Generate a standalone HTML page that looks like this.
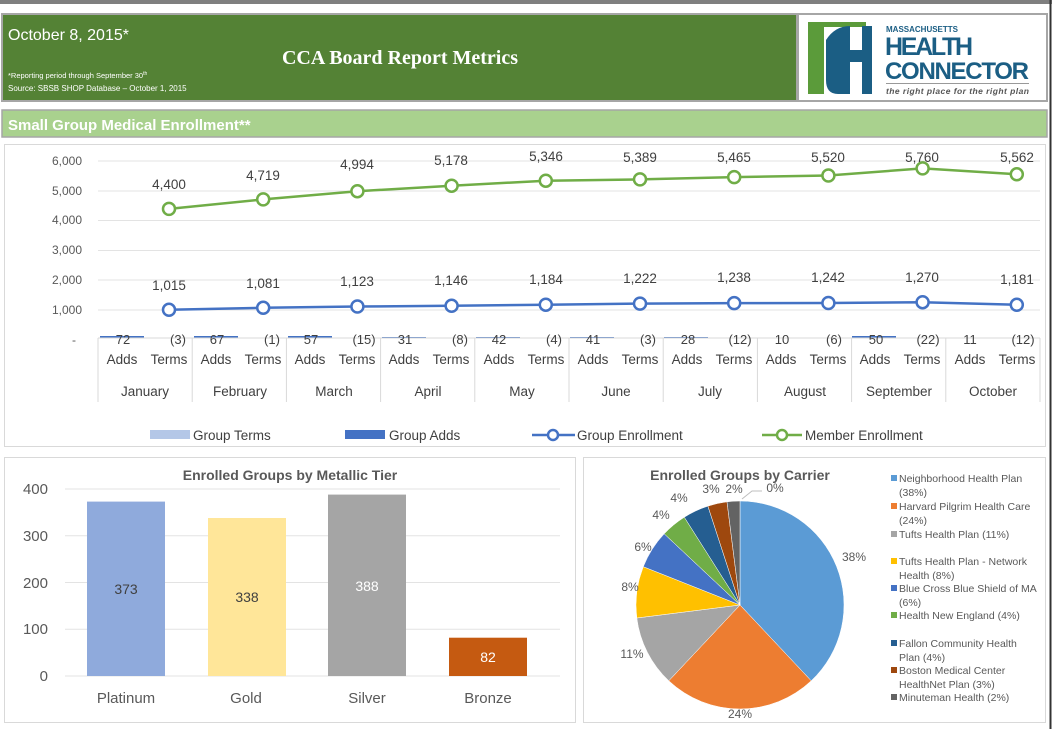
<!DOCTYPE html>
<html><head><meta charset="utf-8"><style>
body{margin:0;background:#fff;width:1057px;height:729px;overflow:hidden}
svg{display:block;font-family:"Liberation Sans",sans-serif}
</style></head><body>
<svg width="1057" height="729" viewBox="0 0 1057 729">
<rect x="0" y="0" width="1057" height="729" fill="#fff"/>
<rect x="0" y="0" width="1052" height="4" fill="#7f7f7f"/>
<rect x="1049.5" y="0" width="2" height="729" fill="#333"/>
<!-- header -->
<rect x="2" y="14" width="795" height="87" fill="#548235" stroke="#a6a6a6" stroke-width="2"/>
<text x="8" y="40" fill="#fff" font-size="16">October 8, 2015*</text>
<text x="400" y="64" fill="#fff" font-size="20" font-weight="bold" text-anchor="middle" font-family="Liberation Serif,serif">CCA Board Report Metrics</text>
<text x="8" y="78" fill="#fff" font-size="7.5">*Reporting period through September 30<tspan font-size="5" dy="-3">th</tspan></text>
<text x="8" y="91" fill="#fff" font-size="8">Source: SBSB SHOP Database – October 1, 2015</text>
<rect x="798" y="14" width="249" height="87" fill="#fff" stroke="#a6a6a6" stroke-width="2"/>
<rect x="808" y="22" width="16" height="72" fill="#5b9b3a"/>
<rect x="808" y="22" width="58" height="5" fill="#5b9b3a"/>
<path d="M826 40 Q835 26 850 26 L850 50 L862 50 L862 26 L872 26 L872 94 L862 94 L862 62 L850 62 L850 94 L838 94 Q826 94 826 80 Z" fill="#1b5e84"/>
<text x="886" y="32" fill="#1b5e84" font-size="8" font-weight="bold">MASSACHUSETTS</text>
<text x="885" y="55" fill="#1b5e84" font-size="25" font-weight="bold" textLength="88">HEALTH</text>
<text x="885" y="79" fill="#1b5e84" font-size="24" font-weight="bold" textLength="144">CONNECTOR</text>
<rect x="886" y="83" width="143" height="1" fill="#999"/>
<text x="886" y="94" fill="#555" font-size="8.5" font-style="italic" font-weight="bold" textLength="143">the right place for the right plan</text>
<!-- section bar -->
<rect x="2" y="110" width="1045" height="27" fill="#a9d18e" stroke="#a6a6a6" stroke-width="1.5"/>
<text x="8" y="130" fill="#fff" font-size="15" font-weight="bold">Small Group Medical Enrollment**</text>
<!-- line chart panel -->
<rect x="4.5" y="144.5" width="1041" height="302" fill="#fff" stroke="#d9d9d9"/>
<g stroke="#e3e3e3"><line x1="98" y1="161" x2="1040" y2="161"/><line x1="98" y1="191" x2="1040" y2="191"/><line x1="98" y1="220.5" x2="1040" y2="220.5"/><line x1="98" y1="250.5" x2="1040" y2="250.5"/><line x1="98" y1="280" x2="1040" y2="280"/><line x1="98" y1="310" x2="1040" y2="310"/></g>
<g font-size="12" fill="#595959" text-anchor="end">
<text x="82" y="165">6,000</text><text x="82" y="195">5,000</text><text x="82" y="224">4,000</text>
<text x="82" y="254">3,000</text><text x="82" y="284">2,000</text><text x="82" y="314">1,000</text><text x="76" y="344">-</text>
</g>
<g fill="#4472c4">
<rect x="100" y="336" width="44" height="2"/><rect x="194" y="336" width="44" height="2"/><rect x="288" y="336" width="44" height="2"/>
<rect x="382" y="337" width="44" height="1"/><rect x="476" y="337" width="44" height="1"/><rect x="570" y="337" width="44" height="1"/>
<rect x="664" y="337" width="44" height="1"/><rect x="758" y="337.5" width="44" height="0.5"/><rect x="852" y="336" width="44" height="2"/><rect x="946" y="337.5" width="44" height="0.5"/>
</g>
<g stroke="#d9d9d9" stroke-width="1">
<line x1="98" y1="338" x2="98" y2="402"/><line x1="192.2" y1="338" x2="192.2" y2="402"/><line x1="286.4" y1="338" x2="286.4" y2="402"/>
<line x1="380.6" y1="338" x2="380.6" y2="402"/><line x1="474.8" y1="338" x2="474.8" y2="402"/><line x1="569" y1="338" x2="569" y2="402"/>
<line x1="663.2" y1="338" x2="663.2" y2="402"/><line x1="757.4" y1="338" x2="757.4" y2="402"/><line x1="851.6" y1="338" x2="851.6" y2="402"/>
<line x1="945.8" y1="338" x2="945.8" y2="402"/><line x1="1040" y1="338" x2="1040" y2="402"/>
<line x1="98" y1="338" x2="1040" y2="338"/>
</g>
<g font-size="13" fill="#404040" text-anchor="middle">
<text x="123" y="344">72</text><text x="178" y="344">(3)</text>
<text x="217" y="344">67</text><text x="272" y="344">(1)</text>
<text x="311" y="344">57</text><text x="364" y="344">(15)</text>
<text x="405" y="344">31</text><text x="460" y="344">(8)</text>
<text x="499" y="344">42</text><text x="554" y="344">(4)</text>
<text x="593" y="344">41</text><text x="648" y="344">(3)</text>
<text x="688" y="344">28</text><text x="740" y="344">(12)</text>
<text x="782" y="344">10</text><text x="834" y="344">(6)</text>
<text x="876" y="344">50</text><text x="928" y="344">(22)</text>
<text x="970" y="344">11</text><text x="1023" y="344">(12)</text>
</g>
<g font-size="13.5" fill="#404040" text-anchor="middle">
<text x="122" y="364">Adds</text><text x="169" y="364">Terms</text><text x="216" y="364">Adds</text><text x="263" y="364">Terms</text>
<text x="310" y="364">Adds</text><text x="357" y="364">Terms</text><text x="404" y="364">Adds</text><text x="451" y="364">Terms</text>
<text x="499" y="364">Adds</text><text x="546" y="364">Terms</text><text x="593" y="364">Adds</text><text x="640" y="364">Terms</text>
<text x="687" y="364">Adds</text><text x="734" y="364">Terms</text><text x="781" y="364">Adds</text><text x="828" y="364">Terms</text>
<text x="875" y="364">Adds</text><text x="922" y="364">Terms</text><text x="970" y="364">Adds</text><text x="1017" y="364">Terms</text>
<text x="145" y="396">January</text><text x="240" y="396">February</text><text x="334" y="396">March</text><text x="428" y="396">April</text>
<text x="522" y="396">May</text><text x="616" y="396">June</text><text x="710" y="396">July</text><text x="805" y="396">August</text>
<text x="899" y="396">September</text><text x="993" y="396">October</text>
</g>
<polyline fill="none" stroke="#70ad47" stroke-width="2.5" points="169,208.9 263.2,199.4 357.4,191.2 451.6,185.7 545.8,180.7 640,179.4 734.2,177.1 828.4,175.5 922.6,168.4 1016.8,174.3"/>
<g fill="#fff" stroke="#70ad47" stroke-width="2.5">
<circle cx="169" cy="208.9" r="6"/><circle cx="263.2" cy="199.4" r="6"/><circle cx="357.4" cy="191.2" r="6"/><circle cx="451.6" cy="185.7" r="6"/><circle cx="545.8" cy="180.7" r="6"/>
<circle cx="640" cy="179.4" r="6"/><circle cx="734.2" cy="177.1" r="6"/><circle cx="828.4" cy="175.5" r="6"/><circle cx="922.6" cy="168.4" r="6"/><circle cx="1016.8" cy="174.3" r="6"/>
</g>
<polyline fill="none" stroke="#4472c4" stroke-width="2.5" points="169,309.8 263.2,307.8 357.4,306.5 451.6,305.8 545.8,304.7 640,303.6 734.2,303.1 828.4,303 922.6,302.2 1016.8,304.8"/>
<g fill="#fff" stroke="#4472c4" stroke-width="2.5">
<circle cx="169" cy="309.8" r="6"/><circle cx="263.2" cy="307.8" r="6"/><circle cx="357.4" cy="306.5" r="6"/><circle cx="451.6" cy="305.8" r="6"/><circle cx="545.8" cy="304.7" r="6"/>
<circle cx="640" cy="303.6" r="6"/><circle cx="734.2" cy="303.1" r="6"/><circle cx="828.4" cy="303" r="6"/><circle cx="922.6" cy="302.2" r="6"/><circle cx="1016.8" cy="304.8" r="6"/>
</g>
<g font-size="13.5" fill="#404040" text-anchor="middle">
<text x="169" y="189">4,400</text><text x="263" y="180">4,719</text><text x="357" y="169">4,994</text><text x="451" y="165">5,178</text><text x="546" y="161">5,346</text>
<text x="640" y="162">5,389</text><text x="734" y="162">5,465</text><text x="828" y="162">5,520</text><text x="922" y="162">5,760</text><text x="1017" y="162">5,562</text>
<text x="169" y="290">1,015</text><text x="263" y="288">1,081</text><text x="357" y="286">1,123</text><text x="451" y="285">1,146</text><text x="546" y="284">1,184</text>
<text x="640" y="283">1,222</text><text x="734" y="282">1,238</text><text x="828" y="282">1,242</text><text x="922" y="282">1,270</text><text x="1017" y="284">1,181</text>
</g>
<g font-size="13.5" fill="#404040">
<rect x="150" y="430" width="40" height="9" fill="#b4c7e7"/><text x="193" y="440">Group Terms</text>
<rect x="345" y="430" width="40" height="9" fill="#4472c4"/><text x="389" y="440">Group Adds</text>
<line x1="532" y1="435" x2="575" y2="435" stroke="#4472c4" stroke-width="2.5"/><circle cx="553" cy="435" r="5" fill="#fff" stroke="#4472c4" stroke-width="2.5"/><text x="577" y="440">Group Enrollment</text>
<line x1="762" y1="435" x2="802" y2="435" stroke="#70ad47" stroke-width="2.5"/><circle cx="782" cy="435" r="5" fill="#fff" stroke="#70ad47" stroke-width="2.5"/><text x="805" y="440">Member Enrollment</text>
</g>
<!-- bar chart -->
<rect x="4.5" y="457.5" width="571" height="265" fill="#fff" stroke="#d9d9d9"/>
<text x="290" y="480" font-size="14" font-weight="bold" fill="#595959" text-anchor="middle">Enrolled Groups by Metallic Tier</text>
<g stroke="#e3e3e3"><line x1="65" y1="489" x2="560" y2="489"/><line x1="65" y1="535.75" x2="560" y2="535.75"/><line x1="65" y1="582.5" x2="560" y2="582.5"/><line x1="65" y1="629.25" x2="560" y2="629.25"/><line x1="65" y1="676" x2="560" y2="676"/></g>
<g font-size="15" fill="#595959" text-anchor="end">
<text x="48" y="494">400</text><text x="48" y="541">300</text><text x="48" y="588">200</text><text x="48" y="634">100</text><text x="48" y="681">0</text>
</g>
<rect x="87" y="501.6" width="78" height="174.4" fill="#8faadc"/>
<rect x="208" y="518" width="78" height="158" fill="#ffe699"/>
<rect x="328" y="494.6" width="78" height="181.4" fill="#a5a5a5"/>
<rect x="449" y="637.7" width="78" height="38.3" fill="#c55a11"/>
<g font-size="14" text-anchor="middle" fill="#404040">
<text x="126" y="594">373</text><text x="247" y="602">338</text><text x="367" y="591" fill="#fff">388</text><text x="488" y="662" fill="#fff">82</text>
</g>
<g font-size="15" text-anchor="middle" fill="#595959">
<text x="126" y="703">Platinum</text><text x="246" y="703">Gold</text><text x="367" y="703">Silver</text><text x="488" y="703">Bronze</text>
</g>
<!-- pie -->
<rect x="583.5" y="457.5" width="462" height="265" fill="#fff" stroke="#d9d9d9"/>
<text x="740" y="480" font-size="14" font-weight="bold" fill="#595959" text-anchor="middle">Enrolled Groups by Carrier</text>
<g stroke="#fff" stroke-width="0.5">
<path d="M740 605 L740 501 A104 104 0 0 1 811.2 680.8 Z" fill="#5b9bd5"/>
<path d="M740 605 L811.2 680.8 A104 104 0 0 1 668.8 680.8 Z" fill="#ed7d31"/>
<path d="M740 605 L668.8 680.8 A104 104 0 0 1 636.8 618 Z" fill="#a5a5a5"/>
<path d="M740 605 L636.8 618 A104 104 0 0 1 643.3 566.7 Z" fill="#ffc000"/>
<path d="M740 605 L643.3 566.7 A104 104 0 0 1 664.2 533.8 Z" fill="#4472c4"/>
<path d="M740 605 L664.2 533.8 A104 104 0 0 1 684.3 517.2 Z" fill="#70ad47"/>
<path d="M740 605 L684.3 517.2 A104 104 0 0 1 707.9 506.1 Z" fill="#255e91"/>
<path d="M740 605 L707.9 506.1 A104 104 0 0 1 727 501.8 Z" fill="#9e480e"/>
<path d="M740 605 L727 501.8 A104 104 0 0 1 740 501 Z" fill="#636363"/>
</g>
<polyline points="742,499 752,491 762,491" fill="none" stroke="#bfbfbf"/>
<g font-size="12" fill="#595959" text-anchor="middle">
<text x="854" y="561">38%</text><text x="740" y="718">24%</text><text x="632" y="658">11%</text><text x="630" y="591">8%</text>
<text x="643" y="551">6%</text><text x="661" y="519">4%</text><text x="679" y="502">4%</text><text x="711" y="493">3%</text><text x="734" y="493">2%</text><text x="775" y="492">0%</text>
</g>
<g font-size="10.5" fill="#595959">
<rect x="891" y="475" width="6" height="6" fill="#5b9bd5"/><text x="899" y="482">Neighborhood Health Plan</text><text x="899" y="496">(38%)</text>
<rect x="891" y="503" width="6" height="6" fill="#ed7d31"/><text x="899" y="510">Harvard Pilgrim Health Care</text><text x="899" y="524">(24%)</text>
<rect x="891" y="531" width="6" height="6" fill="#a5a5a5"/><text x="899" y="538">Tufts Health Plan (11%)</text>
<rect x="891" y="558" width="6" height="6" fill="#ffc000"/><text x="899" y="565">Tufts Health Plan - Network</text><text x="899" y="579">Health (8%)</text>
<rect x="891" y="585" width="6" height="6" fill="#4472c4"/><text x="899" y="592">Blue Cross Blue Shield of MA</text><text x="899" y="606">(6%)</text>
<rect x="891" y="612" width="6" height="6" fill="#70ad47"/><text x="899" y="619">Health New England (4%)</text>
<rect x="891" y="640" width="6" height="6" fill="#255e91"/><text x="899" y="647">Fallon Community Health</text><text x="899" y="661">Plan (4%)</text>
<rect x="891" y="667" width="6" height="6" fill="#9e480e"/><text x="899" y="674">Boston Medical Center</text><text x="899" y="688">HealthNet Plan (3%)</text>
<rect x="891" y="694" width="6" height="6" fill="#636363"/><text x="899" y="701">Minuteman Health (2%)</text>
</g>
</svg>
</body></html>
